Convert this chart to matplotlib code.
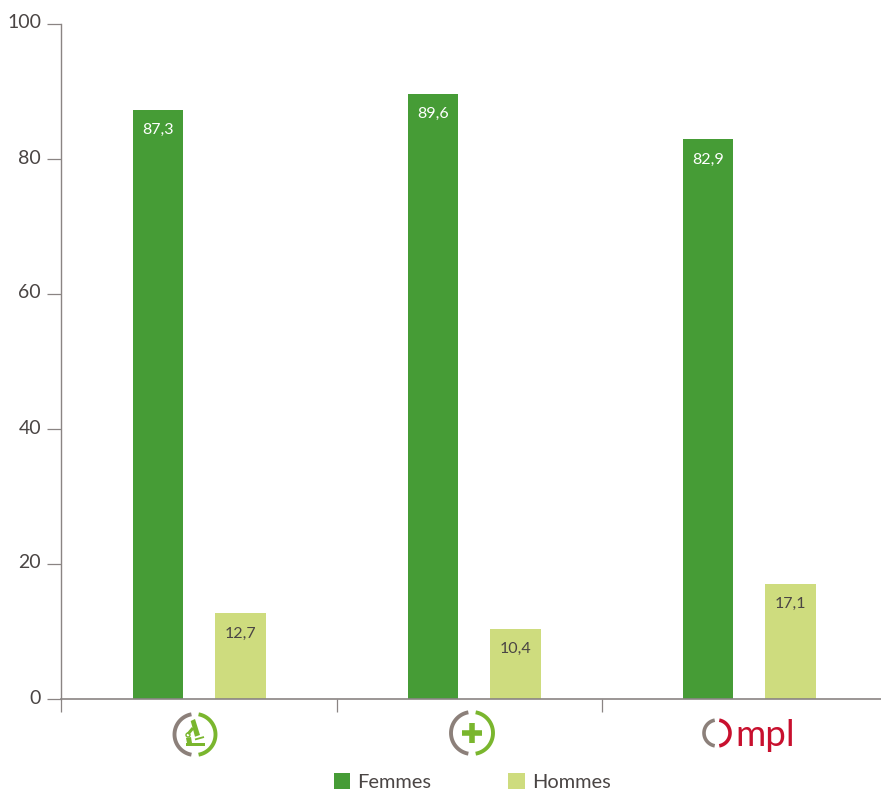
import numpy as np
import matplotlib
matplotlib.use('Agg')
import matplotlib.pyplot as plt
from matplotlib.patches import Circle, Polygon
from matplotlib.transforms import ScaledTranslation

plt.rcParams['font.family'] = ['Lato', 'DejaVu Sans']

groups = [0, 1, 2]
femmes = [87.3, 89.6, 82.9]
hommes = [12.7, 10.4, 17.1]
yticks = [0, 20, 40, 60, 80, 100]
xticks = [-0.505, 0.5, 1.465]

DARK = '#4a4544'
AXIS = '#8a8483'
GREEN = '#469c36'
LIGHT = '#cedc7e'
LOGO_GREEN = '#7ab62e'
LOGO_GRAY = '#8c807a'
LOGO_RED = '#c8102e'


def label(v):
    return f'{v:.1f}'.replace('.', ',')


W, H = 881, 792
fig = plt.figure(figsize=(W / 100, H / 100), dpi=100)
ax = fig.add_axes([60.5 / W, 1 - 699 / H, (W - 60.5) / W, 675 / H])

x = np.array(groups)
b1 = ax.bar(x - 0.15, femmes, 0.182, color=GREEN, label='Femmes')
b2 = ax.bar(x + 0.149, hommes, 0.182, color=LIGHT, label='Hommes')

for rect, v in zip(b1, femmes):
    ax.annotate(label(v), (rect.get_x() + rect.get_width() / 2, v), xytext=(0, -14.5),
                textcoords='offset points', ha='center', va='center', color='white', fontsize=11.5)
for rect, v in zip(b2, hommes):
    ax.annotate(label(v), (rect.get_x() + rect.get_width() / 2, v), xytext=(0, -14.5),
                textcoords='offset points', ha='center', va='center', color=DARK, fontsize=11.5)

ax.set_xlim(-0.5055, 2.478)
ax.set_ylim(0, 100)
ax.set_yticks(yticks)
ax.set_xticks(xticks)
ax.set_xticklabels([])
ax.tick_params(axis='y', length=10, width=0.9, color=AXIS, labelcolor=DARK, labelsize=14, pad=4)
ax.tick_params(axis='x', length=9.5, width=0.9, color=AXIS)
for lab in ax.get_yticklabels():
    lab.set_transform(lab.get_transform() + ScaledTranslation(0, 2.5 / 100, fig.dpi_scale_trans))
ax.spines[['top', 'right']].set_visible(False)
ax.spines['left'].set_color(AXIS)
ax.spines['left'].set_linewidth(1.0)
ax.spines['bottom'].set_color(AXIS)
ax.spines['bottom'].set_linewidth(1.2)

ax.legend(loc='lower left', bbox_to_anchor=(333 / W, 0), bbox_transform=fig.transFigure, ncol=2,
          frameon=False, fontsize=14.4, labelcolor=DARK, handlelength=0.82, handleheight=0.82,
          handletextpad=0.35, columnspacing=3.85, borderpad=0.05, borderaxespad=0)

# logos under the axis, drawn in pixel coordinates of the figure
logo = fig.add_axes([0, 0, 1, 1])
logo.set_xlim(0, W)
logo.set_ylim(H, 0)
logo.axis('off')
logo.patch.set_alpha(0)


def ring(cx, cy, r, left, right, lw):
    t = np.radians(np.linspace(-80, 80, 60))
    logo.plot(cx + r * np.cos(t), cy + r * np.sin(t), color=right, lw=lw, solid_capstyle='butt')
    logo.plot(cx - r * np.cos(t), cy + r * np.sin(t), color=left, lw=lw, solid_capstyle='butt')


# microscope
ring(195, 734.5, 20.5, LOGO_GRAY, LOGO_GREEN, 2.8)
logo.add_patch(Polygon([(190.7, 721), (195, 719), (200, 735), (195, 736.7)], color=LOGO_GREEN, lw=0))
logo.add_patch(Polygon([(186, 743), (205, 743), (205, 746), (186, 746)], color=LOGO_GREEN, lw=0))
logo.add_patch(Polygon([(186, 738), (191, 737), (192, 743), (187, 743)], color=LOGO_GREEN, lw=0))
logo.plot([188, 193], [734, 728], color=LOGO_GREEN, lw=2.2, solid_capstyle='butt')
logo.plot([195, 204], [739.5, 737], color=LOGO_GREEN, lw=1.3, solid_capstyle='butt')
logo.add_patch(Circle((188, 735), 2.0, facecolor='white', edgecolor=LOGO_GREEN, lw=1.0))

# plus
ring(472, 733, 21, LOGO_GRAY, LOGO_GREEN, 2.8)
logo.plot([462, 482], [733, 733], color=LOGO_GREEN, lw=4.0, solid_capstyle='butt')
logo.plot([472, 472], [723, 743], color=LOGO_GREEN, lw=4.0, solid_capstyle='butt')

# Ompl
ring(717, 733, 13, LOGO_GRAY, LOGO_RED, 2.6)
logo.text(735, 746, 'mpl', color=LOGO_RED, fontsize=26.5, ha='left', va='baseline')

fig.savefig('out.png', dpi=100)
